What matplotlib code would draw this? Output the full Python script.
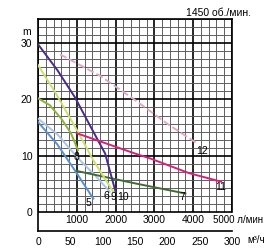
import numpy as np
import matplotlib
matplotlib.use("Agg")
import matplotlib.pyplot as plt
from matplotlib.transforms import offset_copy

plt.rcParams['font.family'] = ['Liberation Sans', 'DejaVu Sans']

# pump curves: flow in l/min, head in m
q5 = [0, 500, 950, 1425]
h5 = [16.0, 12.0, 7.4, 2.4]
q6 = [0, 500, 1040, 1500, 1850]
h6 = [16.6, 13.8, 9.5, 6.3, 3.6]
q7 = [1000, 2500, 3800]
h7 = [7.3, 5.1, 3.3]
q8 = [0, 300, 600, 850, 1030]
h8 = [20.2, 19.0, 16.6, 14.0, 11.0]
q9 = [0, 440, 1000, 1425, 1940]
h9 = [26.1, 21.3, 14.6, 9.2, 3.6]
q10 = [0, 500, 950, 1400, 1730, 2000]
h10 = [29.8, 25.2, 20.4, 14.6, 10.4, 3.6]
q11 = [1000, 2000, 2500, 2900, 3900, 4720]
h11 = [14.0, 11.6, 10.4, 9.5, 6.9, 5.4]
q12 = [570, 1600, 2500, 3350, 4100]
h12 = [28.0, 24.2, 19.9, 15.6, 12.2]

curve_names = ['5', '6', '7', '8', '9', '10', '11', '12']
label_pos = [(1290, 1.6), (1760, 2.8), (3710, 2.6), (1000, 9.7),
             (1950, 2.6), (2180, 2.6), (4700, 4.5), (4230, 10.8)]

y_ticks = [0, 10, 20, 30]
lmin_ticks = [1000, 2000, 3000, 4000]
m3h_ticks = [0, 50, 100, 150, 200, 250, 300]

top = 24 * 10 / 7
bottom = -3.36

fig = plt.figure(figsize=(2.7, 2.5), dpi=100)
ax = fig.add_axes([38 / 270, 19 / 250, 194 / 270, 212 / 250])
ax.set_xlim(0, 5000)
ax.set_ylim(bottom, top)

# grid, only above zero head
for x in range(0, 5001, 200):
    major = x % 1000 == 0
    ax.vlines(x, 0, top, color='black' if major else '#555555',
              lw=1.2 if major else 0.65, zorder=1)
for k in range(0, 25):
    major = k % 7 == 0
    ax.hlines(k * 10 / 7, 0, 5000, color='black' if major else '#555555',
              lw=1.2 if major else 0.65, zorder=1)

curves = [(q5, h5, '#5b8fcb', '-'), (q6, h6, '#a9c6e2', '-'),
          (q7, h7, '#3f6b33', '-'), (q8, h8, '#8cb43a', '-'),
          (q9, h9, '#cde06e', '-'), (q10, h10, '#4a2a88', '-'),
          (q11, h11, '#d2237c', '-'), (q12, h12, '#e4a6c6', '--')]
for q, h, c, ls in curves:
    ax.plot(q, h, color=c, lw=1.4, ls=ls, zorder=3)

for name, (x, y) in zip(curve_names, label_pos):
    ax.text(x, y, name, fontsize=7.5, ha='center', va='center', zorder=4)

# frame
for s in ['left', 'bottom', 'top', 'right']:
    ax.spines[s].set_linewidth(1.2)
ax.spines['right'].set_bounds(0, top)

ax.set_yticks(y_ticks)
ax.set_yticklabels([str(v) for v in y_ticks], fontsize=7.5)
ax.tick_params(axis='y', length=0, pad=4)
ax.text(-0.035, 31.9, 'm', transform=ax.get_yaxis_transform(),
        fontsize=7.5, ha='right', va='center')

ax.set_xticks([v * 1000 / 60 for v in m3h_ticks])
ax.set_xticklabels([str(v) for v in m3h_ticks], fontsize=7.5)
ax.tick_params(axis='x', length=0, pad=4)
fig.text(256 / 270, 1 - 240 / 250, 'м³/ч', fontsize=7,
         ha='center', va='center')

for v in lmin_ticks:
    ax.text(v, -1.45, str(v), fontsize=7.5, ha='center', va='center')
shift = offset_copy(ax.transData, fig=fig, x=-19, y=0, units='dots')
ax.text(5000, -1.45, '5000 л/мин', fontsize=7, ha='left', va='center',
        transform=shift)

fig.text(219 / 270, 1 - 13 / 250, '1450 об./мин.', fontsize=7.5,
         ha='center', va='center')

fig.savefig('out.png', dpi=100)
